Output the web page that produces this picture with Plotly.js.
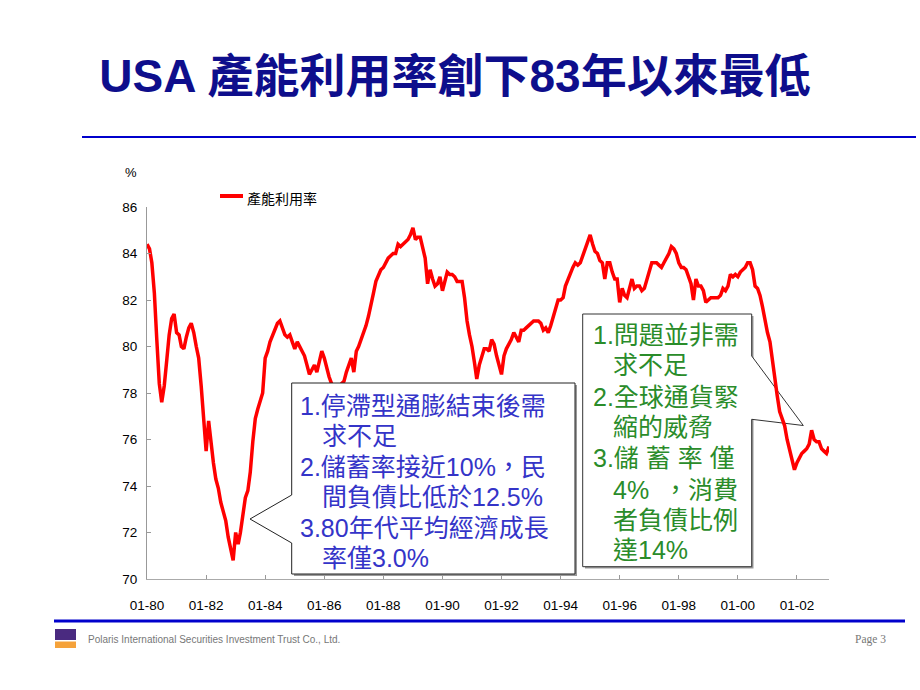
<!DOCTYPE html>
<html>
<head>
<meta charset="utf-8">
<script src="https://cdn.plot.ly/plotly-3.0.1.min.js"></script>
<style>html,body{margin:0;padding:0;background:#fff;}#chart{width:920px;height:690px;}</style>
</head>
<body>
<div id="chart"></div>
<script>
// ---- Data: US capacity utilization (%), monthly, Jan 1980 onward ----
const y1980 = [84.4, 84.2, 83.6, 82.3, 80.3, 78.4, 77.6, 78.3, 79.4, 80.5, 81.2, 81.4];
const y1981 = [80.6, 80.5, 80.0, 79.9, 80.4, 80.8, 81.0, 80.6, 80.0, 79.5, 78.3, 76.9];
const y1982 = [75.5, 76.8, 75.8, 75.0, 74.3, 73.9, 73.3, 72.9, 72.5, 71.8, 71.2, 70.8];
const y1983 = [72.0, 71.5, 72.0, 72.9, 73.5, 73.8, 74.6, 75.9, 76.9, 77.3, 77.7, 78.0];
const y1984 = [79.5, 79.8, 80.2, 80.5, 80.8, 81.0, 81.1, 80.8, 80.5, 80.4, 80.5, 80.2];
const y1985 = [79.9, 80.2, 80.0, 79.8, 79.6, 79.2, 78.8, 79.0, 79.2, 78.9, 79.3, 79.8];
const y1986 = [79.5, 79.0, 78.7, 78.4, 78.2, 78.2, 78.1, 78.4, 78.5, 78.9, 79.2, 79.5];
const y1987 = [78.9, 79.8, 80.0, 80.3, 80.6, 80.9, 81.3, 81.9, 82.3, 82.8, 83.1, 83.3];
const y1988 = [83.4, 83.6, 83.8, 83.9, 84.0, 84.0, 84.4, 84.3, 84.4, 84.5, 84.6, 84.8];
const y1989 = [85.1, 84.6, 84.7, 84.7, 84.2, 83.8, 82.7, 83.3, 82.9, 82.6, 82.7, 83.0];
const y1990 = [82.4, 82.9, 83.2, 83.1, 83.1, 83.0, 82.8, 82.8, 82.8, 82.1, 81.1, 80.5];
const y1991 = [80.0, 79.3, 78.6, 79.2, 79.6, 79.9, 79.9, 79.8, 80.3, 80.1, 79.6, 79.2];
const y1992 = [78.8, 79.6, 79.9, 80.1, 80.3, 80.6, 80.4, 80.2, 80.7, 80.7, 80.8, 80.9];
const y1993 = [81.0, 81.1, 81.1, 81.1, 81.0, 80.7, 80.8, 80.6, 80.9, 81.3, 81.7, 82.0];
const y1994 = [82.0, 82.1, 82.6, 82.9, 83.1, 83.4, 83.6, 83.5, 83.6, 83.9, 84.3, 84.6];
const y1995 = [84.8, 84.4, 84.1, 84.0, 83.7, 83.6, 82.9, 83.6, 83.6, 83.2, 82.9, 82.9];
const y1996 = [81.9, 82.5, 82.2, 82.1, 82.5, 82.9, 82.5, 82.6, 82.6, 82.4, 82.5, 82.9];
const y1997 = [83.2, 83.6, 83.6, 83.6, 83.5, 83.4, 83.6, 83.8, 84.0, 84.3, 84.2, 84.0];
const y1998 = [83.6, 83.4, 83.4, 83.3, 83.0, 82.7, 82.0, 82.9, 82.6, 82.6, 82.4, 81.9];
const y1999 = [82.0, 82.1, 82.1, 82.1, 82.1, 82.2, 82.5, 82.4, 82.6, 83.1, 83.0, 83.1];
const y2000 = [83.0, 83.2, 83.3, 83.4, 83.6, 83.6, 83.3, 82.6, 82.5, 82.2, 81.7, 81.1];
const y2001 = [80.6, 80.2, 79.4, 78.6, 77.9, 77.2, 76.9, 76.6, 76.0, 75.6, 75.1, 74.7];
const y2002 = [75.0, 75.2, 75.4, 75.5, 75.6, 75.8, 76.4, 76.0, 75.9, 75.9, 75.6, 75.5];
const y2003 = [75.4, 75.7];

const yearly = [y1980,y1981,y1982,y1983,y1984,y1985,y1986,y1987,y1988,y1989,y1990,y1991,
                y1992,y1993,y1994,y1995,y1996,y1997,y1998,y1999,y2000,y2001,y2002,y2003];
const startYear = 1980;

const tickDates = ["1980-01-01","1982-01-01","1984-01-01","1986-01-01","1988-01-01","1990-01-01",
                   "1992-01-01","1994-01-01","1996-01-01","1998-01-01","2000-01-01","2002-01-01"];
const tickLabels = ["01-80","01-82","01-84","01-86","01-88","01-90","01-92","01-94","01-96","01-98","01-00","01-02"];

const seriesName = "產能利用率";
const titleText = "USA 產能利用率創下83年以來最低";
const blueNotes = ["1.停滯型通膨結束後需","求不足","2.儲蓄率接近10%，民","間負債比低於12.5%","3.80年代平均經濟成長","率僅3.0%"];
const greenNotes = ["1.問題並非需","求不足","2.全球通貨緊","縮的威脅","3.儲 蓄 率 僅","4%  ，消費","者負債比例","達14%"];

// ---- build series ----
const xs = [], ys = [];
yearly.forEach((arr, i) => {
  arr.forEach((v, m) => {
    xs.push(`${startYear + i}-${String(m + 1).padStart(2, "0")}-01`);
    ys.push(v);
  });
});

// ---- pixel -> paper helpers ----
const L = 147, R = 829, T = 207, B = 579;
const px = x => (x - L) / (R - L);
const py = y => (B - y) / (B - T);
const P = (x, y) => `${px(x)},${py(y)}`;

const sansCJK = 'Liberation Sans, Arial, "Noto Sans CJK TC", sans-serif';
const blue = "#3434C8";
const green = "#2A8C2A";

const annotations = [];
const addLines = (lines, xs0, ys0, color) => {
  lines.forEach((t, i) => {
    annotations.push({
      xref: "paper", yref: "paper", x: px(xs0[i]), y: py(ys0[i]),
      xanchor: "left", yanchor: "middle", showarrow: false, text: t,
      font: {family: sansCJK, size: 25, color: color}
    });
  });
};
addLines(blueNotes, [298,320,298,320,298,320], [406,436,467,497,528,558], blue);
addLines(greenNotes, [591,611,591,611,591,611,611,611], [335,365,397,427,458,490,520,550], green);

// legend text, % label, footer
annotations.push({xref:"paper", yref:"paper", x: px(245), y: py(198), xanchor:"left", yanchor:"middle",
  showarrow:false, text: seriesName, font:{family:'"Noto Sans CJK TC", sans-serif', size:14, color:"#000"}});
annotations.push({xref:"paper", yref:"paper", x: px(131), y: py(172), xanchor:"center", yanchor:"middle",
  showarrow:false, text:"%", font:{family:sansCJK, size:13, color:"#000"}});
annotations.push({xref:"paper", yref:"paper", x: px(86), y: py(639), xanchor:"left", yanchor:"middle",
  showarrow:false, text:"Polaris International Securities Investment Trust Co., Ltd.",
  font:{family:'Liberation Sans, Arial, sans-serif', size:10, color:"#777"}});
annotations.push({xref:"paper", yref:"paper", x: px(888), y: py(639), xanchor:"right", yanchor:"middle",
  showarrow:false, text:"Page 3", font:{family:'Liberation Serif, Times New Roman, serif', size:11.5, color:"#777"}});

const blueBox = `M${P(291.7,383)} L${P(575,383)} L${P(575,574)} L${P(291.7,574)} L${P(291.7,543)} L${P(250,519)} L${P(291.7,495)} Z`;
const blueShadow = `M${P(294,385)} L${P(577,385)} L${P(577,576)} L${P(294,576)} Z`;
const greenBox = `M${P(582.7,314)} L${P(751.7,314)} L${P(751.7,356)} L${P(803.3,425.5)} L${P(751.7,419.3)} L${P(751.7,566.7)} L${P(582.7,566.7)} Z`;
const greenShadow = `M${P(585,316)} L${P(753.5,316)} L${P(753.5,568.5)} L${P(585,568.5)} Z`;

const shapes = [
  // header / footer rules
  {type:"line", xref:"paper", yref:"paper", x0:px(82), x1:px(916), y0:py(137), y1:py(137), line:{color:"#0000CC", width:2}},
  {type:"line", xref:"paper", yref:"paper", x0:px(54), x1:px(905), y0:py(621), y1:py(621), line:{color:"#0000CC", width:3}},
  // logo
  {type:"rect", xref:"paper", yref:"paper", x0:px(55), x1:px(76), y0:py(640), y1:py(629), fillcolor:"#4A2A80", line:{width:0}},
  {type:"rect", xref:"paper", yref:"paper", x0:px(55), x1:px(76), y0:py(648), y1:py(641.5), fillcolor:"#F5A23A", line:{width:0}},
  // legend swatch
  {type:"line", xref:"paper", yref:"paper", x0:px(220), x1:px(243), y0:py(196), y1:py(196), line:{color:"#FF0000", width:4}},
  // green callout (below line)
  {type:"path", xref:"paper", yref:"paper", path:greenShadow, fillcolor:"#999", line:{width:0}, layer:"below"},
  {type:"path", xref:"paper", yref:"paper", path:greenBox, fillcolor:"#FFFFFF", line:{color:"#333", width:1}, layer:"below"},
  // blue callout (above line)
  {type:"path", xref:"paper", yref:"paper", path:blueShadow, fillcolor:"#999", line:{width:0}, layer:"above"},
  {type:"path", xref:"paper", yref:"paper", path:blueBox, fillcolor:"#FFFFFF", line:{color:"#222", width:1}, layer:"above"}
];

const trace = {
  x: xs, y: ys, type: "scatter", mode: "lines", name: seriesName,
  line: {color: "#FF0000", width: 3.5}, showlegend: false
};

const layout = {
  width: 920, height: 690,
  margin: {l: L, r: 920 - R, t: T, b: 690 - B, pad: 0},
  paper_bgcolor: "rgba(0,0,0,0)", plot_bgcolor: "rgba(0,0,0,0)",
  title: {
    text: titleText, x: 455/920, xref: "container", xanchor: "center",
    y: 1 - 76/690, yref: "container", yanchor: "middle",
    font: {family: 'Liberation Sans, Arial, "Noto Sans CJK TC", sans-serif', size: 46, color: "#0E0E8C", weight: "bold"}
  },
  xaxis: {
    type: "date", range: ["1980-01-01", "2003-02-01"],
    tickvals: tickDates, ticktext: tickLabels,
    ticks: "inside", ticklen: 4, tickcolor: "#999", showline: true, linecolor: "#aaa", linewidth: 1,
    showgrid: false, zeroline: false, ticklabelstandoff: 14,
    tickfont: {family: 'Liberation Sans, Arial, sans-serif', size: 13.5, color: "#000"}
  },
  yaxis: {
    range: [70, 86], tick0: 70, dtick: 2,
    ticks: "inside", ticklen: 4, tickcolor: "#999", showline: true, linecolor: "#999", linewidth: 1,
    showgrid: false, zeroline: false, ticklabelstandoff: 6,
    tickfont: {family: 'Liberation Sans, Arial, sans-serif', size: 13.5, color: "#000"}
  },
  shapes: shapes,
  annotations: annotations,
  showlegend: false
};

Plotly.newPlot("chart", [trace], layout, {displayModeBar: false, staticPlot: true});
</script>
</body>
</html>
